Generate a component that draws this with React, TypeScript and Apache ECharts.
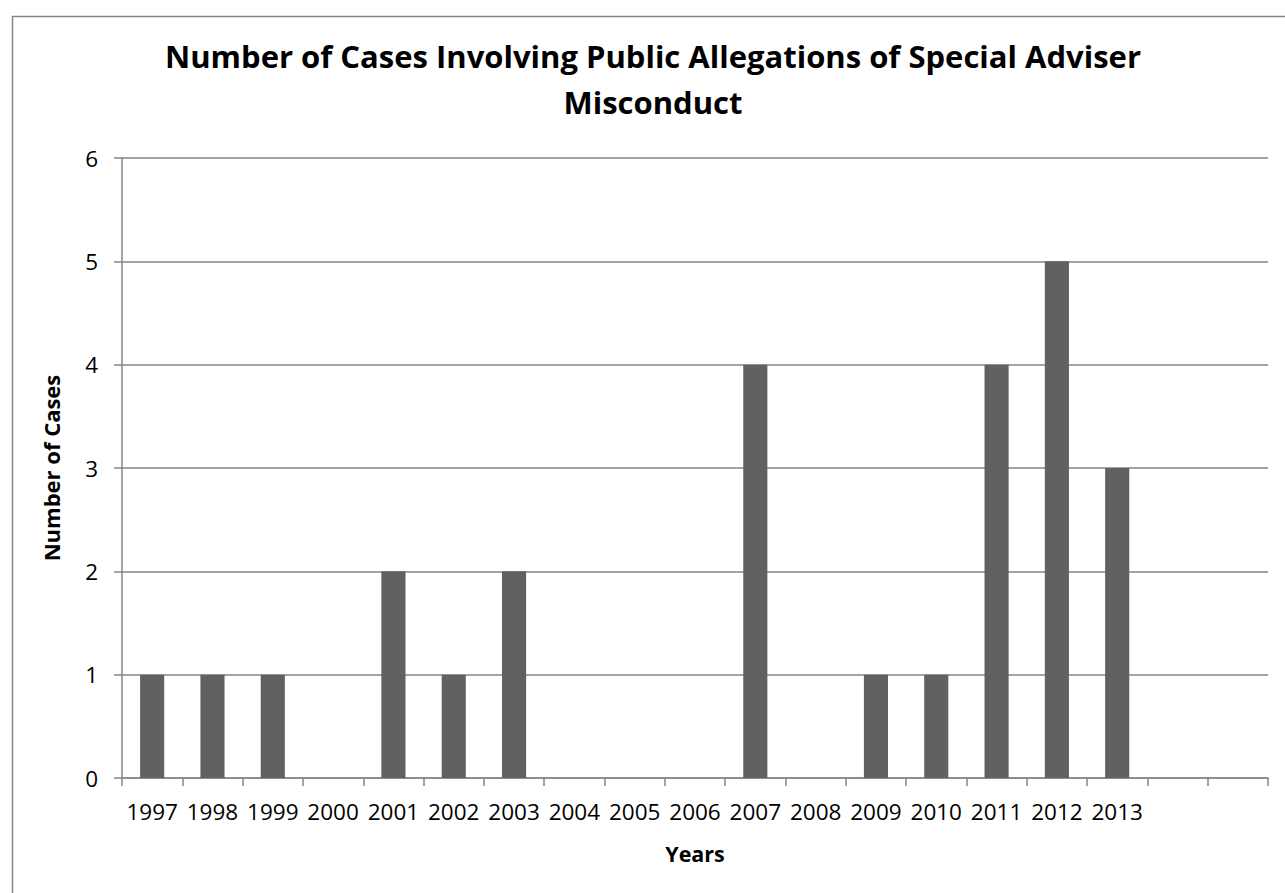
import React, { useEffect, useRef } from "react";
import * as echarts from "echarts";

const categories = [
  "1997", "1998", "1999", "2000", "2001", "2002", "2003", "2004", "2005",
  "2006", "2007", "2008", "2009", "2010", "2011", "2012", "2013", "", "",
];
const cases = [1, 1, 1, 0, 2, 1, 2, 0, 0, 0, 4, 0, 1, 1, 4, 5, 3, null, null];
const titleLines = [
  "Number of Cases Involving Public Allegations of Special Adviser",
  "Misconduct",
];
const xName = "Years";
const yName = "Number of Cases";

const FONT = "Open Sans";
const GRAY = "#868686";

export default function App() {
  const ref = useRef<HTMLDivElement>(null);
  useEffect(() => {
    if (!ref.current) return;
    const chart = echarts.init(ref.current, undefined, { renderer: "svg" });
    chart.setOption({
      animation: false,
      backgroundColor: "#ffffff",
      textStyle: { fontFamily: FONT },
      graphic: [
        {
          type: "rect",
          left: 10,
          top: 14,
          shape: { x: 0, y: 0, width: 1300, height: 900 },
          style: { fill: "none", stroke: GRAY, lineWidth: 1.5 },
          silent: true,
        },
        {
          type: "text",
          x: 653,
          y: 56,
          style: {
            text: titleLines[0],
            font: `bold 31px "${FONT}"`,
            fill: "#000",
            textAlign: "center",
            textVerticalAlign: "middle",
          },
        },
        {
          type: "text",
          x: 653,
          y: 102,
          style: {
            text: titleLines[1],
            font: `bold 31px "${FONT}"`,
            fill: "#000",
            textAlign: "center",
            textVerticalAlign: "middle",
          },
        },
        {
          type: "text",
          x: 695,
          y: 853,
          style: {
            text: xName,
            font: `bold 21.5px "${FONT}"`,
            fill: "#000",
            textAlign: "center",
            textVerticalAlign: "middle",
          },
        },
      ],
      grid: { left: 122, right: 17, top: 158, bottom: 115, containLabel: false },
      xAxis: {
        type: "category",
        data: categories,
        axisLine: { show: true, lineStyle: { color: GRAY, width: 1.5 } },
        axisTick: { show: true, length: 8, lineStyle: { color: GRAY, width: 1.5 } },
        axisLabel: {
          interval: 0,
          color: "#000",
          fontFamily: FONT,
          fontSize: 22.5,
          margin: 22,
        },
        splitLine: { show: false },
      },
      yAxis: {
        type: "value",
        min: 0,
        max: 6,
        interval: 1,
        name: yName,
        nameLocation: "middle",
        nameGap: 60,
        nameRotate: 90,
        nameTextStyle: { color: "#000", fontFamily: FONT, fontWeight: "bold", fontSize: 22 },
        axisLine: { show: true, lineStyle: { color: GRAY, width: 1.5 } },
        axisTick: { show: true, length: 8, lineStyle: { color: GRAY, width: 1.5 } },
        axisLabel: { color: "#000", fontFamily: FONT, fontSize: 22.5, margin: 24 },
        splitLine: { show: true, lineStyle: { color: GRAY, width: 1.5 } },
      },
      series: [
        {
          type: "bar",
          data: cases,
          barWidth: "40%",
          itemStyle: { color: "#616161" },
        },
      ],
    });
    return () => chart.dispose();
  }, []);
  return (
    <div
      ref={ref}
      style={{ position: "fixed", left: 0, top: 0, width: 1285, height: 893 }}
    />
  );
}
